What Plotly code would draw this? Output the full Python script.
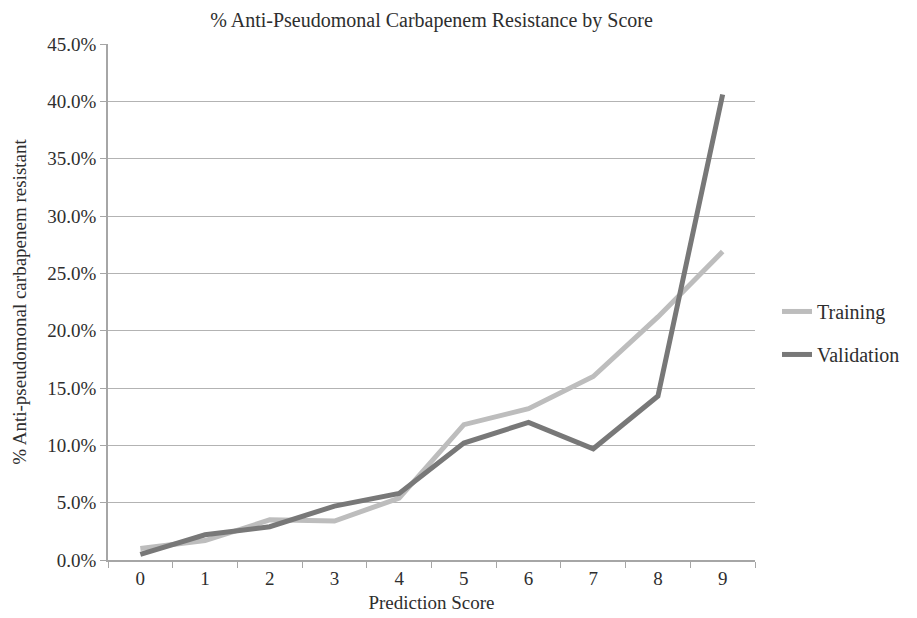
import plotly.graph_objects as go

scores = ["0", "1", "2", "3", "4", "5", "6", "7", "8", "9"]
training = [1.0, 1.7, 3.5, 3.4, 5.4, 11.8, 13.2, 16.0, 21.2, 26.9]
validation = [0.5, 2.2, 2.9, 4.7, 5.8, 10.2, 12.0, 9.7, 14.3, 40.6]
y_ticks = [0, 5, 10, 15, 20, 25, 30, 35, 40, 45]
y_tick_labels = ["%.1f%%" % v for v in y_ticks]

FONT = "Liberation Serif"
TXT = "#2e2e2e"

fig = go.Figure()
fig.add_trace(go.Scatter(x=scores, y=training, mode="lines", name="Training",
                         line=dict(color="#bdbdbd", width=5), legendgroup="a"))
fig.add_trace(go.Scatter(x=scores, y=validation, mode="lines", name="Validation",
                         line=dict(color="#787878", width=5), legendgroup="b"))

fig.update_layout(
    width=917, height=618,
    margin=dict(l=100, r=170, t=36, b=66),
    paper_bgcolor="white", plot_bgcolor="white",
    font=dict(family=FONT, color=TXT, size=19),
    title=dict(text="% Anti-Pseudomonal Carbapenem Resistance by Score",
               x=0.5, xref="paper", xanchor="center", y=0.992, yanchor="top",
               font=dict(family=FONT, size=20, color=TXT)),
    legend=dict(x=1.034, y=0.44, xanchor="left", yanchor="middle",
                traceorder="grouped", tracegroupgap=14,
                font=dict(family=FONT, size=20, color=TXT)),
    xaxis=dict(type="category", tickson="boundaries", ticks="outside", ticklen=6,
               tickcolor="#a6a6a6", showline=True, linecolor="#a6a6a6", linewidth=1.5,
               showgrid=False, range=[-0.5, 9.5],
               tickfont=dict(family=FONT, size=19, color=TXT),
               title=dict(text="Prediction Score", standoff=8,
                          font=dict(family=FONT, size=19, color=TXT))),
    yaxis=dict(range=[0, 45], tickvals=y_ticks, ticktext=y_tick_labels,
               showgrid=True, gridcolor="#b3b3b3", gridwidth=1.2,
               showline=True, linecolor="#a6a6a6", linewidth=1.5,
               ticks="outside", ticklen=6, tickcolor="#a6a6a6", zeroline=False,
               automargin=False,
               tickfont=dict(family=FONT, size=19, color=TXT),
               title=dict(text="% Anti-pseudomonal carbapenem resistant", standoff=16,
                          font=dict(family=FONT, size=19, color=TXT))),
)

fig.write_html("out.html")
